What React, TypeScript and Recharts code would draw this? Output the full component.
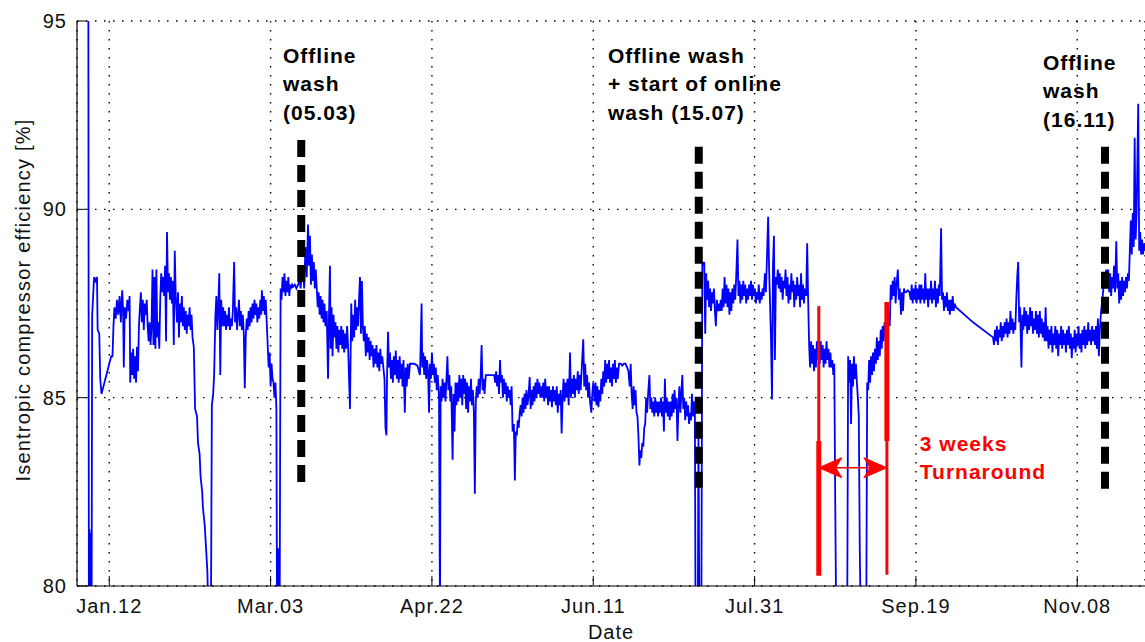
import React from "react";
import {
  LineChart,
  Line,
  XAxis,
  YAxis,
  CartesianGrid,
  ReferenceLine,
  ReferenceDot,
} from "recharts";

// [day of year, isentropic efficiency %]
type Reading = [number, number];

const janFebReadings: Reading[] = [
  [5.5, 97], [5.7, 78], [5.9, 81.5], [6.1, 78], [6.3, 81.4], [6.5, 78], [6.7, 87.2], [7.0, 87.7],
  [7.3, 88.2], [7.8, 88.1], [8.2, 88.2], [8.4, 86.8], [8.9, 86.7], [9.2, 85.5], [9.6, 85.1],
  [10.2, 85.3], [10.8, 85.5], [11.4, 85.7], [12.0, 85.9], [12.6, 86.1], [13.0, 86.1], [13.3, 86.9],
  [13.6, 87.4], [14.0, 87.1], [14.4, 87.6], [14.8, 87.2], [15.2, 87.7], [15.6, 87.0], [16.0, 87.85],
  [16.3, 87.3], [16.5, 85.8], [16.8, 87.4], [17.2, 87.1], [17.6, 87.6], [18.0, 87.3], [18.3, 87.7],
  [18.5, 85.4], [18.8, 86.2], [19.1, 85.6], [19.4, 86.3], [19.7, 85.5], [20.0, 86.1], [20.3, 85.4],
  [20.6, 86.35], [20.9, 85.7], [21.2, 86.9], [21.5, 87.4], [21.8, 87.8], [22.1, 87.0], [22.4, 87.6],
  [22.7, 86.8], [23.0, 87.5], [23.3, 87.2], [23.6, 87.6], [23.9, 86.9], [24.2, 86.5], [24.5, 87.0],
  [24.8, 86.4], [25.1, 86.9], [25.4, 88.4], [25.7, 86.4], [26.0, 88.2], [26.3, 86.3], [26.6, 88.4],
  [26.9, 86.6], [27.2, 87.0], [27.5, 86.3], [27.8, 87.6], [28.1, 88.3], [28.4, 87.8], [28.7, 88.2],
  [29.0, 87.7], [29.3, 88.5], [29.6, 86.5], [29.9, 89.4], [30.2, 87.8], [30.5, 88.3], [30.8, 87.6],
  [31.1, 88.2], [31.4, 87.5], [31.7, 88.1], [32.0, 86.4], [32.3, 88.9], [32.6, 87.7], [33.0, 87.0],
  [33.3, 87.8], [33.6, 86.6], [33.9, 87.5], [34.2, 87.0], [34.5, 87.7], [34.8, 86.9], [35.1, 87.4],
  [35.4, 86.8], [35.7, 87.3], [36.0, 86.7], [36.3, 87.2], [36.6, 86.9], [36.9, 87.4], [37.2, 86.8],
  [37.5, 87.2], [37.8, 86.6], [38.2, 86.35], [38.6, 84.7], [39.2, 84.5], [39.5, 83.8], [40.0, 83.5],
  [40.3, 82.9], [40.8, 82.5], [41.0, 82.1], [41.6, 81.6], [42.0, 81.0], [42.4, 80.4], [42.8, 79],
  [43.5, 79], [43.8, 84.8], [44.2, 85.1], [44.5, 85.6], [44.9, 87.2], [45.2, 87.7], [45.5, 86.8],
  [45.8, 87.5], [46.1, 88.3], [46.4, 85.6], [46.7, 87.6], [47.0, 86.9], [47.3, 87.4], [47.6, 86.9],
  [47.9, 87.3], [48.2, 86.8], [48.5, 87.2], [48.8, 86.9], [49.1, 87.4], [49.4, 86.8], [49.7, 87.1],
  [50.0, 86.9], [50.3, 87.3], [50.7, 88.6], [51.0, 87.0], [51.3, 87.4], [51.6, 86.8], [51.9, 87.2],
  [52.2, 87.6], [52.5, 86.9], [52.8, 87.3], [53.1, 86.8], [53.4, 87.2], [53.7, 86.7], [54.0, 85.25],
  [54.3, 86.6], [54.6, 87.1], [54.9, 86.8], [55.2, 87.3], [55.5, 86.9], [55.8, 87.4], [56.1, 87.0],
  [56.4, 87.5], [56.7, 87.1], [57.0, 87.6], [57.3, 87.2], [57.6, 87.5], [57.9, 87.0], [58.2, 87.4],
  [58.5, 87.1], [58.8, 87.6], [59.1, 87.2], [59.3, 87.85], [59.6, 87.3], [59.9, 87.7],
];

const marAprReadings: Reading[] = [
  [60.2, 87.2], [60.5, 87.6], [60.8, 87.0], [61.1, 86.4], [61.4, 85.8], [61.7, 86.2], [62.0, 85.3],
  [62.3, 85.9], [62.6, 85.5], [62.9, 85.4], [63.2, 85.0], [63.5, 85.4], [63.8, 84.7], [64.0, 79],
  [64.3, 81.0], [64.5, 79], [64.8, 79], [65.1, 87.9], [65.4, 87.6], [65.7, 88.2], [66.0, 87.8],
  [66.3, 88.3], [66.6, 87.7], [66.9, 88.1], [67.2, 87.8], [67.5, 88.2], [67.8, 87.7], [68.1, 88.0],
  [68.4, 87.9], [68.7, 88.0], [69.0, 87.95], [69.5, 88.0], [70.0, 87.9], [70.5, 88.0], [71.0, 88.1],
  [71.3, 87.9], [71.6, 88.2], [72.0, 88.5], [72.4, 87.9], [72.8, 89.0], [73.2, 88.2], [73.6, 89.6],
  [73.9, 88.5], [74.2, 89.3], [74.5, 88.0], [74.8, 88.8], [75.1, 88.1], [75.4, 88.6], [75.7, 87.9],
  [76.0, 88.4], [76.3, 87.9], [76.6, 87.4], [76.9, 87.8], [77.2, 87.2], [77.5, 87.7], [77.8, 87.1],
  [78.1, 87.6], [78.4, 87.0], [78.7, 87.5], [79.0, 86.9], [79.4, 87.3], [79.8, 85.5], [80.1, 87.2],
  [80.4, 88.5], [80.6, 86.3], [80.9, 87.4], [81.2, 86.1], [81.5, 87.2], [81.8, 86.6], [82.1, 87.0],
  [82.4, 86.3], [82.7, 86.9], [83.0, 86.2], [83.3, 86.8], [83.6, 86.4], [83.9, 86.9], [84.2, 86.3],
  [84.5, 86.8], [84.8, 86.2], [85.1, 86.7], [85.4, 86.3], [85.7, 86.9], [86.0, 86.4], [86.6, 84.7],
  [87.0, 87.5], [87.3, 86.5], [87.6, 87.2], [87.9, 86.6], [88.2, 87.6], [88.5, 86.8], [88.8, 87.4],
  [89.1, 86.9], [89.4, 87.6], [89.7, 88.2], [90.0, 86.7], [90.3, 88.1], [90.6, 86.9], [90.9, 86.5],
  [91.2, 86.9], [91.5, 86.1], [91.8, 86.7], [92.1, 86.2], [92.4, 86.6], [92.7, 86.0], [93.0, 86.5],
  [93.3, 86.1], [93.6, 86.4], [93.9, 85.8], [94.2, 86.3], [94.5, 85.9], [94.8, 86.4], [95.1, 85.8],
  [95.4, 86.2], [95.7, 85.7], [96.0, 86.3], [96.3, 85.9], [96.6, 86.1], [97.3, 85.5], [97.6, 84.2],
  [97.9, 84.0], [98.1, 85.6], [98.4, 86.75], [98.7, 85.8], [99.0, 86.2], [99.3, 85.5], [99.6, 86.0],
  [99.9, 85.4], [100.2, 86.1], [100.5, 85.6], [100.8, 86.25], [101.1, 85.5], [101.4, 86.0],
  [101.7, 85.4], [102.0, 86.1], [102.3, 85.5], [102.6, 85.9], [102.9, 85.3], [103.2, 86.0],
  [103.6, 84.6], [103.9, 85.8], [104.2, 85.3], [104.5, 85.9], [104.8, 85.5], [105.2, 85.9],
  [106.5, 85.9], [107.5, 85.85], [108.3, 85.6], [108.8, 87.5], [109.0, 85.8], [109.3, 86.2],
  [109.6, 85.6], [109.9, 86.1], [110.2, 85.5], [110.5, 86.0], [110.8, 85.7], [111.1, 84.6],
  [111.4, 85.9], [111.7, 85.5], [112.0, 86.2], [112.3, 85.6], [112.6, 85.9], [112.9, 85.4],
  [113.2, 85.8], [113.5, 85.2], [113.8, 85.6], [114.2, 85.0], [114.5, 79], [114.7, 85.3],
  [115.0, 84.9], [115.3, 85.5], [115.6, 85.0], [115.9, 85.4], [116.2, 84.9], [116.5, 85.5],
  [116.8, 86.1], [117.1, 85.2], [117.4, 85.6], [117.7, 84.9], [118.0, 85.3], [118.4, 83.35],
  [118.7, 85.1], [119.0, 84.1], [119.3, 85.4], [119.6, 84.8],
];

const mayJunReadings: Reading[] = [
  [119.9, 85.4], [120.2, 84.9], [120.5, 85.6], [120.8, 85.0], [121.1, 85.5], [121.4, 84.8],
  [121.7, 85.6], [122.0, 85.1], [122.3, 85.5], [122.6, 84.7], [122.9, 85.4], [123.2, 84.6],
  [123.5, 85.3], [123.8, 84.9], [124.1, 85.5], [124.4, 84.8], [124.7, 85.2], [125.0, 84.6],
  [125.3, 82.45], [125.6, 84.9], [125.9, 85.3], [126.2, 85.0], [126.5, 85.5], [126.8, 85.1],
  [127.1, 85.6], [127.4, 86.4], [127.7, 85.2], [128.0, 85.5], [128.3, 85.1], [128.7, 85.6],
  [129.5, 85.6], [130.5, 85.6], [131.3, 85.6], [131.6, 85.4], [131.9, 85.7], [132.2, 85.3],
  [132.5, 85.6], [132.8, 85.1], [133.1, 86.0], [133.4, 85.4], [133.7, 85.6], [134.0, 85.0],
  [134.3, 85.5], [134.6, 85.1], [134.9, 85.4], [135.2, 84.9], [135.5, 85.3], [135.8, 85.0],
  [136.1, 85.2], [136.4, 84.8], [136.7, 85.3], [137.0, 84.1], [137.4, 84.3], [137.7, 82.8],
  [138.0, 84.1], [138.3, 84.0], [138.6, 84.4], [138.9, 84.2], [139.2, 84.6], [139.5, 84.8],
  [139.8, 84.5], [140.1, 85.0], [140.4, 84.6], [140.7, 85.1], [141.0, 84.7], [141.3, 85.2],
  [141.6, 84.8], [141.9, 85.0], [142.3, 85.55], [142.6, 84.7], [142.9, 85.2], [143.2, 84.8],
  [143.5, 85.3], [143.8, 84.9], [144.1, 85.4], [144.4, 85.0], [144.7, 85.5], [145.0, 85.1],
  [145.3, 85.4], [145.6, 85.0], [145.9, 85.3], [146.2, 85.0], [146.5, 85.4], [146.8, 84.9],
  [147.1, 85.5], [147.4, 85.0], [147.7, 85.3], [148.0, 84.8], [148.3, 85.3], [148.6, 84.9],
  [148.9, 85.2], [149.2, 84.75], [149.5, 85.3], [149.8, 84.9], [150.1, 85.2], [150.4, 84.8],
  [150.7, 85.3], [151.0, 84.6], [151.3, 85.1], [151.6, 84.8], [151.9, 85.2], [152.2, 84.05],
  [152.5, 85.0], [152.8, 85.5], [153.1, 84.9], [153.4, 85.4], [153.7, 85.0], [154.0, 85.5],
  [154.4, 84.8], [154.8, 86.2], [155.1, 85.0], [155.4, 85.5], [155.7, 85.1], [156.0, 85.6],
  [156.3, 85.0], [156.6, 85.5], [156.9, 85.2], [157.2, 85.7], [157.5, 85.1], [157.8, 85.6],
  [158.1, 85.2], [158.5, 85.9], [158.9, 86.55], [159.2, 85.3], [159.5, 85.9], [159.8, 85.2],
  [160.1, 85.6], [160.4, 85.0], [160.7, 85.4], [161.0, 84.9], [161.4, 84.6], [161.7, 85.1],
  [162.0, 85.4], [162.4, 84.9], [162.7, 85.4], [163.0, 84.8], [163.3, 85.3], [163.6, 84.75],
  [163.9, 85.2], [164.2, 84.9], [164.5, 85.5], [164.8, 85.1], [165.1, 85.7], [165.4, 85.3],
  [165.7, 86.0], [166.0, 85.4], [166.3, 85.9], [166.6, 85.5], [166.9, 86.0], [167.2, 85.4],
  [167.5, 85.8], [167.8, 85.3], [168.1, 85.9], [168.4, 85.5], [168.7, 86.0], [169.0, 85.4],
  [169.3, 85.8], [169.6, 85.5], [170.0, 85.9], [170.5, 85.9], [171.0, 85.85], [171.5, 85.9],
  [172.0, 85.9], [172.5, 85.8], [172.9, 85.7], [173.3, 85.3], [173.6, 85.9], [173.9, 85.1],
  [174.2, 84.7], [174.5, 85.3], [174.8, 84.8], [175.1, 85.2], [175.4, 84.6], [175.7, 84.5],
  [176.0, 84.0], [176.3, 83.2], [176.6, 83.6], [176.9, 83.4], [177.2, 83.8], [177.5, 83.7],
  [177.8, 84.2], [178.1, 84.3], [178.4, 85.0], [178.7, 84.6], [179.0, 85.1], [179.4, 85.6],
  [179.7, 84.7], [180.0, 85.0], [180.3, 84.6], [180.6, 84.9], [180.9, 84.5],
];

const julAugReadings: Reading[] = [
  [181.2, 85.0], [181.5, 84.6], [181.8, 84.9], [182.1, 84.5], [182.4, 84.9], [182.7, 84.6],
  [183.0, 85.0], [183.3, 84.5], [183.6, 84.9], [183.9, 84.1], [184.2, 85.5], [184.5, 84.6],
  [184.8, 85.0], [185.1, 84.5], [185.4, 84.9], [185.7, 84.4], [186.0, 84.9], [186.3, 84.5],
  [186.6, 85.1], [186.9, 84.6], [187.2, 85.2], [187.5, 84.7], [187.8, 85.0], [188.1, 83.85],
  [188.4, 84.8], [188.7, 85.3], [189.0, 84.6], [189.3, 85.1], [189.6, 85.6], [189.9, 84.7],
  [190.2, 85.0], [190.5, 84.4], [190.8, 84.9], [191.1, 84.5], [191.4, 84.8], [191.7, 84.3],
  [192.0, 84.6], [192.3, 84.4], [192.6, 85.1], [192.9, 84.5], [193.2, 84.9], [193.5, 84.6],
  [193.7, 79], [194.4, 79], [194.6, 84.0], [194.9, 79], [195.5, 79], [195.8, 88.6], [196.1, 88.5],
  [196.4, 88.6], [196.7, 86.7], [197.0, 88.3], [197.3, 87.6], [197.6, 88.1], [197.9, 87.4],
  [198.2, 87.9], [198.5, 87.3], [198.8, 87.8], [199.1, 87.5], [199.4, 87.9], [199.7, 87.3],
  [200.0, 86.9], [200.3, 87.6], [200.6, 87.3], [200.9, 87.5], [201.2, 87.3], [201.5, 87.6],
  [201.8, 87.3], [202.1, 87.9], [202.4, 87.4], [202.7, 88.2], [203.0, 87.5], [203.3, 88.0],
  [203.6, 87.4], [203.9, 87.9], [204.2, 87.2], [204.5, 87.8], [204.8, 87.3], [205.1, 87.9],
  [205.4, 87.5], [205.7, 88.0], [206.0, 87.6], [206.3, 88.2], [206.7, 89.2], [207.0, 87.7],
  [207.3, 88.1], [207.6, 87.5], [207.9, 88.0], [208.2, 87.6], [208.5, 88.1], [208.8, 87.7],
  [209.1, 88.0], [209.4, 87.5], [209.7, 87.9], [210.0, 87.6], [210.3, 88.0], [210.6, 87.7],
  [210.9, 88.1], [211.2, 87.6], [211.5, 88.0], [211.8, 87.7], [212.1, 87.9], [212.4, 87.5],
  [212.7, 87.8], [213.0, 87.6], [213.3, 88.0], [213.6, 87.5], [213.9, 87.8], [214.2, 87.6],
  [214.5, 87.9], [214.8, 87.7], [215.2, 88.3], [215.5, 87.8], [215.8, 88.6], [216.2, 89.8],
  [216.5, 88.4], [216.8, 87.5], [217.1, 86.5], [217.4, 84.95], [217.7, 88.5], [218.0, 89.3],
  [218.3, 86.0], [218.6, 88.2], [218.9, 88.0], [219.2, 88.4], [219.5, 87.9], [219.8, 88.3],
  [220.1, 87.8], [220.4, 88.2], [220.7, 87.6], [221.0, 88.1], [221.3, 87.9], [221.6, 88.4],
  [221.9, 87.7], [222.2, 88.2], [222.5, 87.5], [222.8, 88.0], [223.1, 87.6], [223.4, 88.3],
  [223.7, 87.8], [224.0, 88.1], [224.3, 87.4], [224.6, 88.0], [224.9, 87.6], [225.2, 88.2],
  [225.5, 87.7], [225.8, 88.0], [226.1, 87.4], [226.4, 88.3], [226.7, 87.6], [227.0, 88.0],
  [227.3, 87.5], [227.6, 87.9], [228.0, 87.7], [228.3, 89.1], [228.6, 87.6], [228.9, 86.4],
  [229.2, 85.8], [229.5, 86.5], [229.8, 85.9], [230.1, 86.4], [230.4, 85.7], [230.7, 86.3],
  [231.0, 85.8], [231.3, 86.5], [231.6, 86.0], [231.9, 86.4], [232.2, 85.9], [232.5, 86.5],
  [232.8, 86.0], [233.1, 86.4], [233.4, 85.8], [233.7, 86.3], [234.0, 85.9], [234.3, 86.5],
  [234.6, 86.0], [234.9, 86.3], [235.2, 85.8], [235.5, 86.2], [235.8, 85.8], [236.1, 86.0],
  [236.4, 85.6], [236.7, 85.9], [237.0, 82.2], [237.3, 79], [240.7, 79], [241.0, 86.1],
  [241.3, 85.4], [241.6, 86.0], [241.9, 84.3], [242.2, 85.9], [242.5, 85.3], [242.8, 86.1],
  [243.1, 85.5], [243.4, 85.9], [243.7, 85.4],
];

const sepOctReadings: Reading[] = [
  [244.0, 85.0], [244.3, 84.5], [244.6, 81.0], [244.9, 79], [246.6, 79], [246.9, 85.4],
  [247.2, 85.2], [247.5, 86.0], [247.8, 85.4], [248.1, 86.1], [248.4, 85.6], [248.7, 86.2],
  [249.0, 85.7], [249.3, 86.3], [249.6, 85.9], [249.9, 86.6], [250.2, 86.0], [250.5, 86.5],
  [250.8, 86.1], [251.1, 86.8], [251.4, 86.3], [251.7, 86.9], [252.0, 86.5], [252.3, 87.0],
  [252.6, 86.6], [252.9, 87.4], [253.2, 86.8], [253.5, 87.1], [253.9, 86.9], [254.2, 88.0],
  [254.5, 87.6], [254.8, 88.1], [255.1, 87.7], [255.4, 88.2], [255.7, 87.5], [256.0, 88.0],
  [256.4, 88.4], [256.7, 87.6], [257.0, 87.9], [257.4, 87.2], [257.7, 87.8], [258.0, 87.3],
  [258.3, 87.9], [258.6, 87.8], [259.0, 87.8], [259.5, 87.85], [260.0, 87.8], [260.4, 87.6],
  [260.7, 88.0], [261.0, 87.5], [261.3, 87.9], [261.6, 87.6], [261.9, 88.0], [262.2, 87.5],
  [262.5, 87.9], [262.8, 87.6], [263.1, 88.0], [263.4, 87.5], [263.7, 88.0], [264.0, 87.6],
  [264.3, 87.9], [264.6, 87.5], [264.9, 88.3], [265.2, 87.6], [265.5, 87.9], [265.8, 87.4],
  [266.1, 87.9], [266.4, 87.6], [266.7, 88.1], [267.0, 87.5], [267.3, 87.9], [267.6, 87.6],
  [267.9, 88.1], [268.2, 87.4], [268.5, 87.9], [268.8, 87.5], [269.1, 88.0], [269.4, 87.7],
  [269.8, 89.5], [270.1, 87.6], [270.4, 87.8], [270.7, 87.3], [271.0, 87.7], [271.3, 87.4],
  [271.6, 87.8], [271.9, 87.3], [272.2, 87.6], [272.5, 87.2], [272.8, 87.6], [273.1, 87.3],
  [273.4, 87.7], [273.7, 87.3], [274.0, 87.5], [274.4, 87.4], [279.7, 87.0], [285.9, 86.6],
  [286.2, 86.4], [286.5, 86.8], [286.8, 86.5], [287.1, 86.9], [287.4, 86.4], [287.7, 86.8],
  [288.0, 86.6], [288.3, 87.0], [288.6, 86.5], [288.9, 86.9], [289.2, 86.6], [289.5, 87.0],
  [289.8, 86.7], [290.1, 87.1], [290.4, 86.6], [290.7, 87.0], [291.0, 86.7], [291.3, 87.3],
  [291.6, 86.8], [291.9, 87.1], [292.2, 86.7], [292.5, 87.0], [292.8, 86.8], [293.1, 87.6],
  [293.4, 88.2], [293.7, 88.6], [294.0, 87.0], [294.3, 87.4], [294.7, 85.8], [295.0, 87.2],
  [295.3, 86.8], [295.6, 87.4], [295.9, 86.9], [296.2, 87.3], [296.5, 86.7], [296.8, 87.2],
  [297.1, 86.8], [297.4, 87.4], [297.7, 86.9], [298.0, 87.3], [298.3, 86.7], [298.6, 87.1],
  [298.9, 86.8], [299.2, 87.3], [299.5, 86.7], [299.8, 87.2], [300.1, 86.6], [300.4, 87.3],
  [300.7, 86.7], [301.0, 87.1], [301.3, 86.6], [301.6, 87.0], [301.9, 86.5], [302.2, 87.4],
];

const novReadings: Reading[] = [
  [302.5, 86.5], [302.8, 86.9], [303.1, 86.3], [303.4, 86.8], [303.7, 86.4], [304.0, 86.9],
  [304.3, 86.2], [304.6, 86.7], [304.9, 86.4], [305.2, 86.9], [305.5, 86.3], [305.8, 86.8],
  [306.1, 86.1], [306.4, 86.7], [306.7, 86.4], [307.0, 86.9], [307.3, 86.3], [307.6, 86.8],
  [307.9, 86.4], [308.2, 86.7], [308.5, 86.2], [308.8, 86.8], [309.1, 86.4], [309.4, 86.9],
  [309.7, 86.3], [310.0, 86.7], [310.3, 86.05], [310.6, 86.6], [310.9, 86.3], [311.2, 86.8],
  [311.5, 86.2], [311.8, 86.7], [312.1, 86.4], [312.4, 86.9], [312.7, 86.3], [313.0, 86.7],
  [313.3, 86.2], [313.6, 86.8], [313.9, 86.4], [314.2, 86.9], [314.5, 86.3], [314.8, 86.8],
  [315.1, 86.4], [315.4, 87.0], [315.7, 86.5], [316.0, 86.8], [316.3, 86.4], [316.6, 86.9],
  [316.9, 86.5], [317.2, 86.8], [317.5, 86.4], [317.8, 86.9], [318.1, 86.3], [318.4, 87.1],
  [318.7, 86.1], [319.0, 86.8], [319.4, 87.3], [319.8, 87.6], [320.2, 88.0], [320.6, 88.2],
  [321.0, 88.4], [321.3, 88.0], [321.6, 88.4], [321.9, 87.8], [322.2, 88.3], [322.5, 87.7],
  [322.8, 88.2], [323.1, 87.9], [323.4, 88.5], [323.7, 87.8], [324.1, 89.15], [324.4, 87.9],
  [324.7, 88.3], [325.0, 87.5], [325.3, 88.1], [325.6, 87.6], [325.9, 88.2], [326.2, 87.7],
  [326.5, 88.1], [326.8, 87.8], [327.1, 88.2], [327.4, 87.9], [327.7, 88.3], [328.0, 88.1],
  [328.3, 88.9], [328.6, 89.7], [328.9, 88.8], [329.2, 89.9], [329.5, 89.0], [329.8, 91.9],
  [330.1, 89.2], [330.4, 89.9], [330.9, 92.8], [331.2, 88.9], [331.5, 89.4], [331.8, 88.8],
  [332.1, 89.2], [332.4, 88.8], [332.7, 89.1], [333.0, 88.9],
];

const dateTicks = [12, 62, 112, 162, 212, 262, 312];
const dateLabels = ["Jan.12", "Mar.03", "Apr.22", "Jun.11", "Jul.31", "Sep.19", "Nov.08"];
const efficiencyTicks = [80, 85, 90, 95];

// offline wash markers (dashed black bars)
const washDays = [71.5, 194.7, 320.6];
const washTop = [91.84, 91.66, 91.66];
const washBottom = [82.66, 82.61, 82.55];

// turnaround window (red bars + double arrow)
const turnaroundDays = [231.9, 253.0];
const turnaroundTop = [87.43, 87.54];
const turnaroundBottom = [80.27, 80.3];
const turnaroundKink = 83.85; // pen width changes here
const turnaroundArrowLevel = 83.14;

const washNotes = [
  { day: 65.84, value: 93.885, lines: ["Offline", "wash", "(05.03)"] },
  { day: 166.55, value: 93.885, lines: ["Offline wash", "+ start of online", "wash (15.07)"] },
  { day: 301.4, value: 93.7, lines: ["Offline", "wash", "(16.11)"] },
];
const turnaroundNote = { day: 263.2, value: 83.59, lines: ["3 weeks", "Turnaround"] };

const series = [
  ...janFebReadings,
  ...marAprReadings,
  ...mayJunReadings,
  ...julAugReadings,
  ...sepOctReadings,
  ...novReadings,
].map(([day, eff]) => ({ day, eff }));

const FONT = "'Liberation Sans', Arial, Helvetica, sans-serif";

const BottomTick = ({ x, y, payload }: any) => (
  <g>
    <line x1={x} x2={x} y1={y} y2={y - 10} stroke="#000" strokeWidth={1} />
    <text x={x} y={y + 27} textAnchor="middle" fontSize={20} letterSpacing={1} fill="#111" fontFamily={FONT}>
      {dateLabels[dateTicks.indexOf(payload.value)]}
    </text>
  </g>
);

const TopTick = ({ x, y }: any) => (
  <line x1={x} x2={x} y1={y} y2={y + 10} stroke="#000" strokeWidth={1} />
);

const LeftTick = ({ x, y, payload }: any) => (
  <g>
    <line x1={x} x2={x + 10} y1={y} y2={y} stroke="#000" strokeWidth={1} />
    <text x={x - 10} y={y + 7} textAnchor="end" fontSize={20} letterSpacing={1} fill="#111" fontFamily={FONT}>
      {payload.value}
    </text>
  </g>
);

const noteShape = (lines: string[], color: string) => (props: any) => (
  <text x={props.cx} y={props.cy} fontSize={21} fontWeight="bold" letterSpacing={1} fill={color} fontFamily={FONT}>
    {lines.map((line, i) => (
      <tspan key={line} x={props.cx} dy={i === 0 ? 0 : 28.3}>
        {line}
      </tspan>
    ))}
  </text>
);

// double arrow with swept-back heads, like MATLAB's 'vback2'
const DoubleArrow = (props: any) => {
  const { x1, y1, x2 } = props;
  const y = y1;
  const len = 23;
  const half = 10;
  const notch = 17;
  const left = `M${x1},${y} L${x1 + len},${y - half} L${x1 + notch},${y} L${x1 + len},${y + half} Z`;
  const right = `M${x2},${y} L${x2 - len},${y - half} L${x2 - notch},${y} L${x2 - len},${y + half} Z`;
  return (
    <g>
      <line x1={x1 + 4} x2={x2 - 4} y1={y} y2={y} stroke="#ff0000" strokeWidth={1.6} />
      <path d={left} fill="#ff0000" stroke="#ff0000" strokeWidth={1} strokeLinejoin="round" />
      <path d={right} fill="#ff0000" stroke="#ff0000" strokeWidth={1} strokeLinejoin="round" />
    </g>
  );
};

export default function App() {
  return (
    <div
      style={{
        position: "absolute",
        left: 0,
        top: 0,
        width: 1145,
        height: 642,
        background: "#fff",
        overflow: "hidden",
      }}
    >
      <LineChart width={1145} height={642} data={series} margin={{ top: 21, right: 0, bottom: 0, left: 0 }}>
        <CartesianGrid stroke="#000" strokeWidth={1.4} strokeDasharray="1.5 7.5" />
        <XAxis
          dataKey="day"
          type="number"
          domain={[2, 333]}
          ticks={dateTicks}
          allowDataOverflow
          height={56}
          tickSize={0}
          tickMargin={0}
          tickLine={false}
          axisLine={{ stroke: "#000", strokeWidth: 1.2 }}
          tick={<BottomTick />}
          label={{
            content: () => (
              <text x={611} y={639} textAnchor="middle" fontSize={20} letterSpacing={1} fill="#111" fontFamily={FONT}>
                Date
              </text>
            ),
          }}
        />
        <XAxis
          xAxisId="top"
          orientation="top"
          dataKey="day"
          type="number"
          domain={[2, 333]}
          ticks={dateTicks}
          allowDataOverflow
          height={0}
          tickSize={0}
          tickMargin={0}
          tickLine={false}
          axisLine={{ stroke: "#000", strokeWidth: 1.2 }}
          tick={<TopTick />}
        />
        <YAxis
          type="number"
          domain={[80, 95]}
          ticks={efficiencyTicks}
          allowDataOverflow
          width={77}
          tickSize={0}
          tickMargin={0}
          tickLine={false}
          axisLine={{ stroke: "#000", strokeWidth: 1.2 }}
          tick={<LeftTick />}
          label={{
            content: () => (
              <text
                transform="translate(30,300) rotate(-90)"
                textAnchor="middle"
                fontSize={20}
                letterSpacing={1.2}
                fill="#111"
                fontFamily={FONT}
              >
                Isentropic compressor efficiency [%]
              </text>
            ),
          }}
        />
        <Line
          dataKey="eff"
          type="linear"
          stroke="#0000ff"
          strokeWidth={1.8}
          dot={false}
          activeDot={false}
          isAnimationActive={false}
        />
        {washDays.map((d, i) => (
          <ReferenceLine
            key={`wash-${d}`}
            segment={[
              { x: d, y: washTop[i] },
              { x: d, y: washBottom[i] },
            ]}
            stroke="#000"
            strokeWidth={8}
            strokeDasharray="17 8"
          />
        ))}
        {turnaroundDays.map((d, i) => (
          <ReferenceLine
            key={`ta-top-${d}`}
            segment={[
              { x: d, y: turnaroundTop[i] },
              { x: d, y: turnaroundKink },
            ]}
            stroke="#ff0000"
            strokeWidth={i === 0 ? 3 : 5}
          />
        ))}
        {turnaroundDays.map((d, i) => (
          <ReferenceLine
            key={`ta-bottom-${d}`}
            segment={[
              { x: d, y: turnaroundKink },
              { x: d, y: turnaroundBottom[i] },
            ]}
            stroke="#ff0000"
            strokeWidth={i === 0 ? 5 : 3}
          />
        ))}
        <ReferenceLine
          segment={[
            { x: turnaroundDays[0], y: turnaroundArrowLevel },
            { x: turnaroundDays[1], y: turnaroundArrowLevel },
          ]}
          shape={DoubleArrow}
        />
        {washNotes.map((n) => (
          <ReferenceDot key={n.lines[2]} x={n.day} y={n.value} r={0} shape={noteShape(n.lines, "#000")} />
        ))}
        <ReferenceDot
          x={turnaroundNote.day}
          y={turnaroundNote.value}
          r={0}
          shape={noteShape(turnaroundNote.lines, "#ff0000")}
        />
      </LineChart>
    </div>
  );
}
